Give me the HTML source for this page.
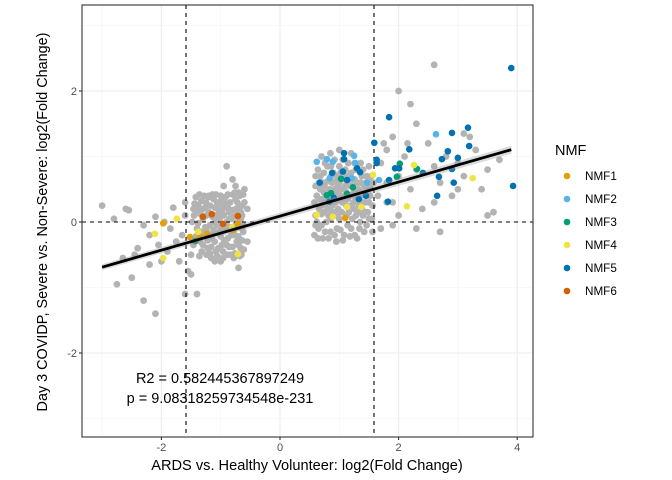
<!DOCTYPE html>
<html><head><meta charset="utf-8"><style>
html,body{margin:0;padding:0;background:#fff;}
svg{display:block;font-family:"Liberation Sans",Arial,sans-serif;}
</style></head><body>
<svg id="chart" width="672" height="480" viewBox="0 0 672 480"></svg>
<script>
const xTicks=[-2,0,2,4];
const yTicks=[-2,0,2];
const xMinor=[-3,-1,1,3];
const yMinor=[-3,-1,1,3];
const vLines=[-1.585,1.585];
const hLines=[0];
const fitIntercept=0.09;
const fitSlope=0.26;
const fitRange=[-3.0,3.9];
const grayPts=[
[-1.45,0.1],[-1.4,-0.1],[-1.38,0.25],[-1.35,-0.3],[-1.3,0.05],[-1.28,-0.2],[-1.25,0.3],[-1.22,-0.4],[-1.2,0.15],[-1.18,-0.05],[-1.15,-0.25],[-1.12,0.35],[-1.1,0.0],[-1.08,-0.45],[-1.05,0.2],[-1.02,-0.15],[-1.0,0.4],[-0.98,-0.35],[-0.95,0.1],[-0.93,-0.05],[-0.9,0.28],[-0.88,-0.25],[-0.85,0.05],[-0.83,-0.5],[-0.8,0.18],[-0.78,-0.12],[-0.75,0.35],[-0.73,-0.3],[-0.7,0.0],[-0.68,0.22],[-0.66,-0.4],[-0.64,0.1],[-0.62,-0.15],[-0.6,0.3],[-0.62,-0.05],[-0.7,-0.22],[-0.78,0.08],[-0.86,-0.38],[-0.94,0.22],[-1.02,0.05],[-1.1,-0.3],[-1.18,0.25],[-1.26,-0.08],[-1.34,0.12],[-1.42,-0.22],[-1.48,0.0],[-1.32,-0.45],[-1.16,-0.55],[-0.96,-0.55],[-0.76,-0.48],[-0.68,0.4],[-0.88,0.42],[-1.08,0.42],[-1.28,0.4],[-0.72,-0.08],[-0.84,0.3],[-0.92,-0.12],[-1.0,-0.22],[-1.06,0.3],[-1.14,0.08],[-1.22,-0.28],[-1.3,0.2],[-1.38,-0.02],[-1.44,0.28],[-0.66,0.15],[-0.74,0.2],[-0.82,-0.2],[-0.9,0.0],[-0.98,0.15],[-1.04,-0.4],[-1.12,-0.12],[-1.2,0.38],[-0.64,-0.28],[-0.7,-0.35],
[-1.46,-0.35],[-1.42,0.38],[-1.36,-0.52],[-1.33,0.32],[-1.24,-0.5],[-1.24,0.1],[-1.16,-0.38],[-1.14,0.42],[-1.06,-0.52],[-1.06,-0.05],[-1.0,0.28],[-0.96,-0.45],[-0.92,0.38],[-0.88,-0.5],[-0.86,0.15],[-0.8,-0.38],[-0.8,0.42],[-0.76,-0.2],[-0.72,0.3],[-0.68,-0.52],[-0.66,0.05],[-0.62,0.42],[-0.61,-0.42],[-0.64,-0.1],[-0.74,-0.02],[-0.84,-0.08],[-0.94,-0.28],[-1.04,0.12],[-1.14,-0.18],[-1.24,-0.12],[-1.34,-0.15],[-1.4,0.18],[-1.46,0.2],[-1.3,-0.35],[-1.2,-0.2],[-1.1,0.22],[-1.0,-0.08],[-0.9,-0.35],[-0.82,0.05],[-0.72,0.12],[-0.64,0.25],[-1.36,0.42],[-1.18,-0.48],[-0.98,0.35],[-0.78,-0.55],[-0.7,0.45],[-1.26,0.22],[-1.08,0.1],[-0.88,0.22],[-0.76,0.45],
[-3.0,0.25],[-2.6,0.2],[-2.55,0.18],[-2.8,0.05],[-2.3,-0.05],[-2.1,0.08],[-1.95,0.0],[-1.85,-0.1],[-2.2,-0.2],[-2.05,-0.35],[-1.9,-0.45],[-1.75,-0.3],[-1.65,-0.2],[-1.6,0.1],[-2.0,-0.6],[-2.2,-0.65],[-2.45,-0.5],[-2.65,-0.55],[-2.4,-0.4],[-1.7,-0.6],[-1.55,-0.75],[-1.5,-0.5],[-1.8,0.22],[-1.6,0.3],[-1.2,0.4],[-2.75,-0.95],[-2.5,-0.85],[-2.3,-1.2],[-2.1,-1.4],[-1.6,-1.1],[-1.4,-1.1],[-1.5,-0.8],[-1.0,-0.6],[-0.9,0.85],[-0.8,0.65],[-0.75,0.55],[-0.95,0.55],[-0.6,0.5],[-0.55,0.2],[-0.55,-0.3],[-0.65,-0.5],[-0.7,-0.7],[-1.1,-0.6],
[0.6,0.1],[0.62,0.4],[0.65,-0.1],[0.68,0.7],[0.7,0.25],[0.72,-0.25],[0.75,0.55],[0.78,0.0],[0.8,0.85],[0.82,0.35],[0.85,-0.15],[0.88,0.6],[0.9,0.15],[0.92,0.95],[0.95,-0.3],[0.98,0.45],[1.0,0.05],[1.02,0.75],[1.05,0.3],[1.08,-0.2],[1.1,0.55],[1.12,0.1],[1.15,0.9],[1.18,0.4],[1.2,-0.1],[1.22,0.65],[1.25,0.2],[1.28,0.8],[1.3,-0.25],[1.32,0.5],[1.35,0.0],[1.38,0.7],[1.4,0.3],[1.42,-0.15],[1.45,0.6],[1.48,0.15],[1.5,0.85],[1.52,0.4],[1.55,0.05],[1.58,0.6],[0.6,0.55],[0.64,0.8],[0.66,0.2],[0.7,-0.05],[0.74,0.45],[0.76,0.9],[0.8,0.2],[0.84,0.5],[0.86,0.05],[0.9,0.75],[0.94,0.3],[0.96,-0.1],[1.0,0.6],[1.04,0.15],[1.06,0.95],[1.1,0.35],[1.14,-0.05],[1.16,0.7],[1.2,0.25],[1.24,0.45],[1.26,-0.2],[1.3,0.6],[1.34,0.25],[1.36,0.9],[1.4,0.1],[1.44,0.45],[1.46,-0.05],[1.5,0.3],[1.54,0.7],[0.58,-0.2],[0.62,0.0],[0.66,0.35],[0.72,0.6],[0.78,0.3],[0.82,0.1],[0.88,0.4],[0.92,0.5],[0.98,0.2],[1.02,0.4],[1.08,0.5],[1.12,0.25],[1.18,0.55],[1.22,0.05],[1.28,0.35],[1.32,0.15],[1.38,0.45],[1.42,0.55],[1.48,0.5],[0.7,1.0],[0.85,1.05],[1.2,1.05],[1.0,1.1],
[0.58,0.3],[0.6,0.7],[0.64,-0.25],[0.68,0.5],[0.7,0.12],[0.74,0.75],[0.76,-0.15],[0.8,0.62],[0.82,-0.25],[0.86,0.85],[0.88,0.25],[0.92,-0.2],[0.94,0.62],[0.96,0.1],[1.0,0.85],[1.02,-0.12],[1.04,0.5],[1.06,-0.28],[1.1,0.8],[1.12,0.45],[1.14,0.62],[1.16,0.15],[1.18,-0.22],[1.2,0.75],[1.24,0.3],[1.26,0.9],[1.28,0.1],[1.3,0.45],[1.34,-0.1],[1.36,0.6],[1.38,0.2],[1.4,0.8],[1.44,0.3],[1.46,0.7],[1.5,0.05],[1.52,0.55],[1.56,0.25],[1.56,-0.15],[0.6,-0.05],[0.66,0.6],[0.72,0.35],[0.78,0.45],[0.84,0.2],[0.9,0.45],[0.96,0.7],[1.04,0.65],[1.08,0.3],[1.14,0.35],[1.22,0.55],[1.3,0.3],[1.36,0.4],[1.44,0.15],[1.5,0.65],[0.74,0.15],[0.86,0.7],[0.98,0.55],[1.12,0.7],[1.26,0.65],
[1.7,0.9],[1.8,0.6],[1.9,0.3],[2.0,0.7],[2.1,1.0],[2.2,0.5],[2.3,0.8],[2.4,0.2],[2.5,1.2],[2.6,0.85],[2.7,0.6],[2.8,1.0],[2.9,0.4],[3.0,0.9],[3.1,0.7],[3.3,1.1],[3.4,0.5],[3.5,0.8],[3.6,0.15],[3.7,0.95],[3.1,1.35],[3.2,1.3],[2.2,1.8],[2.0,2.0],[2.6,2.4],[2.3,1.5],[1.9,1.3],[1.8,1.1],[2.0,0.1],[2.3,-0.1],[1.7,-0.1],[1.8,0.3],[2.6,0.3],[2.7,-0.15],[3.0,0.5],[3.5,0.1],[1.9,-0.05],[1.65,0.4],[1.75,1.2],[2.15,1.2]
];
const nmf1Pts=[[1.10,0.06],[-1.97,-0.02],[-1.52,-0.23],[-1.35,-0.23],[-1.23,-0.18],[-0.71,-0.03],[-0.79,-0.12]];
const nmf2Pts=[[2.63,1.34],[0.62,0.92],[0.79,0.96],[0.89,0.92],[1.25,1.01],[1.27,0.90],[0.84,0.67],[1.21,0.67],[1.47,0.60],[1.67,0.64]];
const nmf3Pts=[[2.02,0.89],[2.31,0.81],[1.97,0.69],[1.03,0.66],[1.23,0.53],[0.79,0.41],[0.86,0.44],[1.13,0.43],[-1.43,-0.29]];
const nmf4Pts=[[2.26,0.87],[3.25,0.67],[2.14,0.24],[1.13,0.23],[1.37,0.23],[0.62,0.11],[0.89,0.08],[1.57,0.72],[-1.74,0.05],[-2.11,-0.18],[-1.97,-0.55],[-1.38,-0.15],[-0.81,-0.08],[-0.71,-0.49]];
const nmf5Pts=[[1.84,1.60],[2.90,1.36],[3.17,1.44],[3.19,1.16],[2.83,1.08],[3.00,0.98],[2.73,0.96],[2.90,0.81],[2.68,0.69],[2.93,0.60],[2.65,0.40],[3.93,0.55],[3.90,2.35],[2.18,1.11],[1.59,1.21],[1.63,0.95],[1.63,0.90],[1.08,1.05],[1.08,0.96],[1.06,0.77],[0.88,0.75],[0.67,0.60],[1.13,0.64],[1.30,0.82],[1.35,0.76],[1.94,0.82],[2.01,0.82],[1.84,0.64],[1.33,0.35],[1.45,0.40],[1.82,0.31],[0.91,0.37],[0.83,0.31],[2.41,0.75]];
const nmf6Pts=[[-1.30,0.08],[-1.15,0.12],[-0.96,-0.03],[-0.71,0.09]];
const seriesNames=["NMF1","NMF2","NMF3","NMF4","NMF5","NMF6"];
const seriesColors=["#E69F00","#56B4E9","#009E73","#F0E442","#0072B2","#D55E00"];

const svg=document.getElementById('chart');
const NS="http://www.w3.org/2000/svg";
const P={l:82,r:533,t:5,b:437};
const X0=280,XS=59.3,Y0=222,YS=65.5;
const sx=v=>X0+v*XS, sy=v=>Y0-v*YS;
function mk(tag,attrs,parent){const e=document.createElementNS(NS,tag);for(const k in attrs)e.setAttribute(k,attrs[k]);(parent||svg).appendChild(e);return e;}

const bg=mk('rect',{x:P.l,y:P.t,width:P.r-P.l,height:P.b-P.t,fill:'#fff'});


const grid=mk('g',{});


xMinor.forEach(v=>mk('line',{x1:sx(v),x2:sx(v),y1:P.t,y2:P.b,stroke:'#f2f2f2','stroke-width':0.6},grid));
yMinor.forEach(v=>{if(sy(v)>P.t&&sy(v)<P.b)mk('line',{x1:P.l,x2:P.r,y1:sy(v),y2:sy(v),stroke:'#f2f2f2','stroke-width':0.6},grid);});
xTicks.forEach(v=>mk('line',{x1:sx(v),x2:sx(v),y1:P.t,y2:P.b,stroke:'#ebebeb','stroke-width':1.1},grid));
yTicks.forEach(v=>mk('line',{x1:P.l,x2:P.r,y1:sy(v),y2:sy(v),stroke:'#ebebeb','stroke-width':1.1},grid));

const gp=mk('g',{fill:'#b3b3b3'});


grayPts.forEach(p=>mk('circle',{cx:sx(p[0]),cy:sy(p[1]),r:3.4},gp));

const ref=mk('g',{stroke:'#000','stroke-width':1.1,'stroke-dasharray':'4,4'});


vLines.forEach(v=>mk('line',{x1:sx(v),x2:sx(v),y1:P.t,y2:P.b},ref));
hLines.forEach(v=>mk('line',{x1:P.l,x2:P.r,y1:sy(v),y2:sy(v)},ref));

const allSeries=[nmf1Pts,nmf2Pts,nmf3Pts,nmf4Pts,nmf5Pts,nmf6Pts];
allSeries.forEach((pts,i)=>{
  const g=mk('g',{fill:seriesColors[i]});
  
  
  pts.forEach(p=>mk('circle',{cx:sx(p[0]),cy:sy(p[1]),r:3.3},g));
});

const fy=x=>fitIntercept+fitSlope*x;
const band=mk('polygon',{points:`${sx(fitRange[0])},${sy(fy(fitRange[0]))-3} ${sx(fitRange[1])},${sy(fy(fitRange[1]))-4} ${sx(fitRange[1])},${sy(fy(fitRange[1]))+4} ${sx(fitRange[0])},${sy(fy(fitRange[0]))+3}`,fill:'#999','fill-opacity':0.35});


const fit=mk('line',{x1:sx(fitRange[0]),y1:sy(fy(fitRange[0])),x2:sx(fitRange[1]),y2:sy(fy(fitRange[1])),stroke:'#000','stroke-width':2.8});



const border=mk('rect',{x:P.l,y:P.t,width:P.r-P.l,height:P.b-P.t,fill:'none',stroke:'#333','stroke-width':1.1});



xTicks.forEach(v=>{
  mk('line',{x1:sx(v),x2:sx(v),y1:P.b,y2:P.b+3,stroke:'#333','stroke-width':1.1});
  const t=mk('text',{x:sx(v),y:P.b+14,'text-anchor':'middle','font-size':11,fill:'#4d4d4d'});
  t.textContent=v;
  
  
});
yTicks.forEach(v=>{
  mk('line',{x1:P.l-3,x2:P.l,y1:sy(v),y2:sy(v),stroke:'#333','stroke-width':1.1});
  const t=mk('text',{x:P.l-5,y:sy(v)+4,'text-anchor':'end','font-size':11,fill:'#4d4d4d'});
  t.textContent=v;
  
  
});

const xt=mk('text',{x:307,y:470,'text-anchor':'middle','font-size':14.6,fill:'#000'});
xt.textContent='ARDS vs. Healthy Volunteer: log2(Fold Change)';


const yt=mk('text',{x:0,y:0,'text-anchor':'middle','font-size':14.4,fill:'#000',transform:'translate(47,222) rotate(-90)'});
yt.textContent='Day 3 COVIDP, Severe vs. Non-Severe: log2(Fold Change)';



const r2=mk('text',{x:220,y:383,'text-anchor':'middle','font-size':14.5,fill:'#000'});
r2.textContent='R2 = 0.582445367897249';


const pv=mk('text',{x:220,y:403,'text-anchor':'middle','font-size':14.5,fill:'#000'});
pv.textContent='p = 9.08318259734548e-231';



const lg=mk('g',{});


const lt=mk('text',{x:555,y:155,'font-size':14.5,fill:'#000'},lg);
lt.textContent='NMF';


seriesNames.forEach((n,i)=>{
  const y=176+i*23;
  const e=mk('g',{},lg);
  
  
  mk('circle',{cx:567,cy:y,r:3.3,fill:seriesColors[i]},e);
  const t=mk('text',{x:585,y:y+4,'font-size':11.7,fill:'#000'},e);
  t.textContent=n;
});
</script>
</body></html>
